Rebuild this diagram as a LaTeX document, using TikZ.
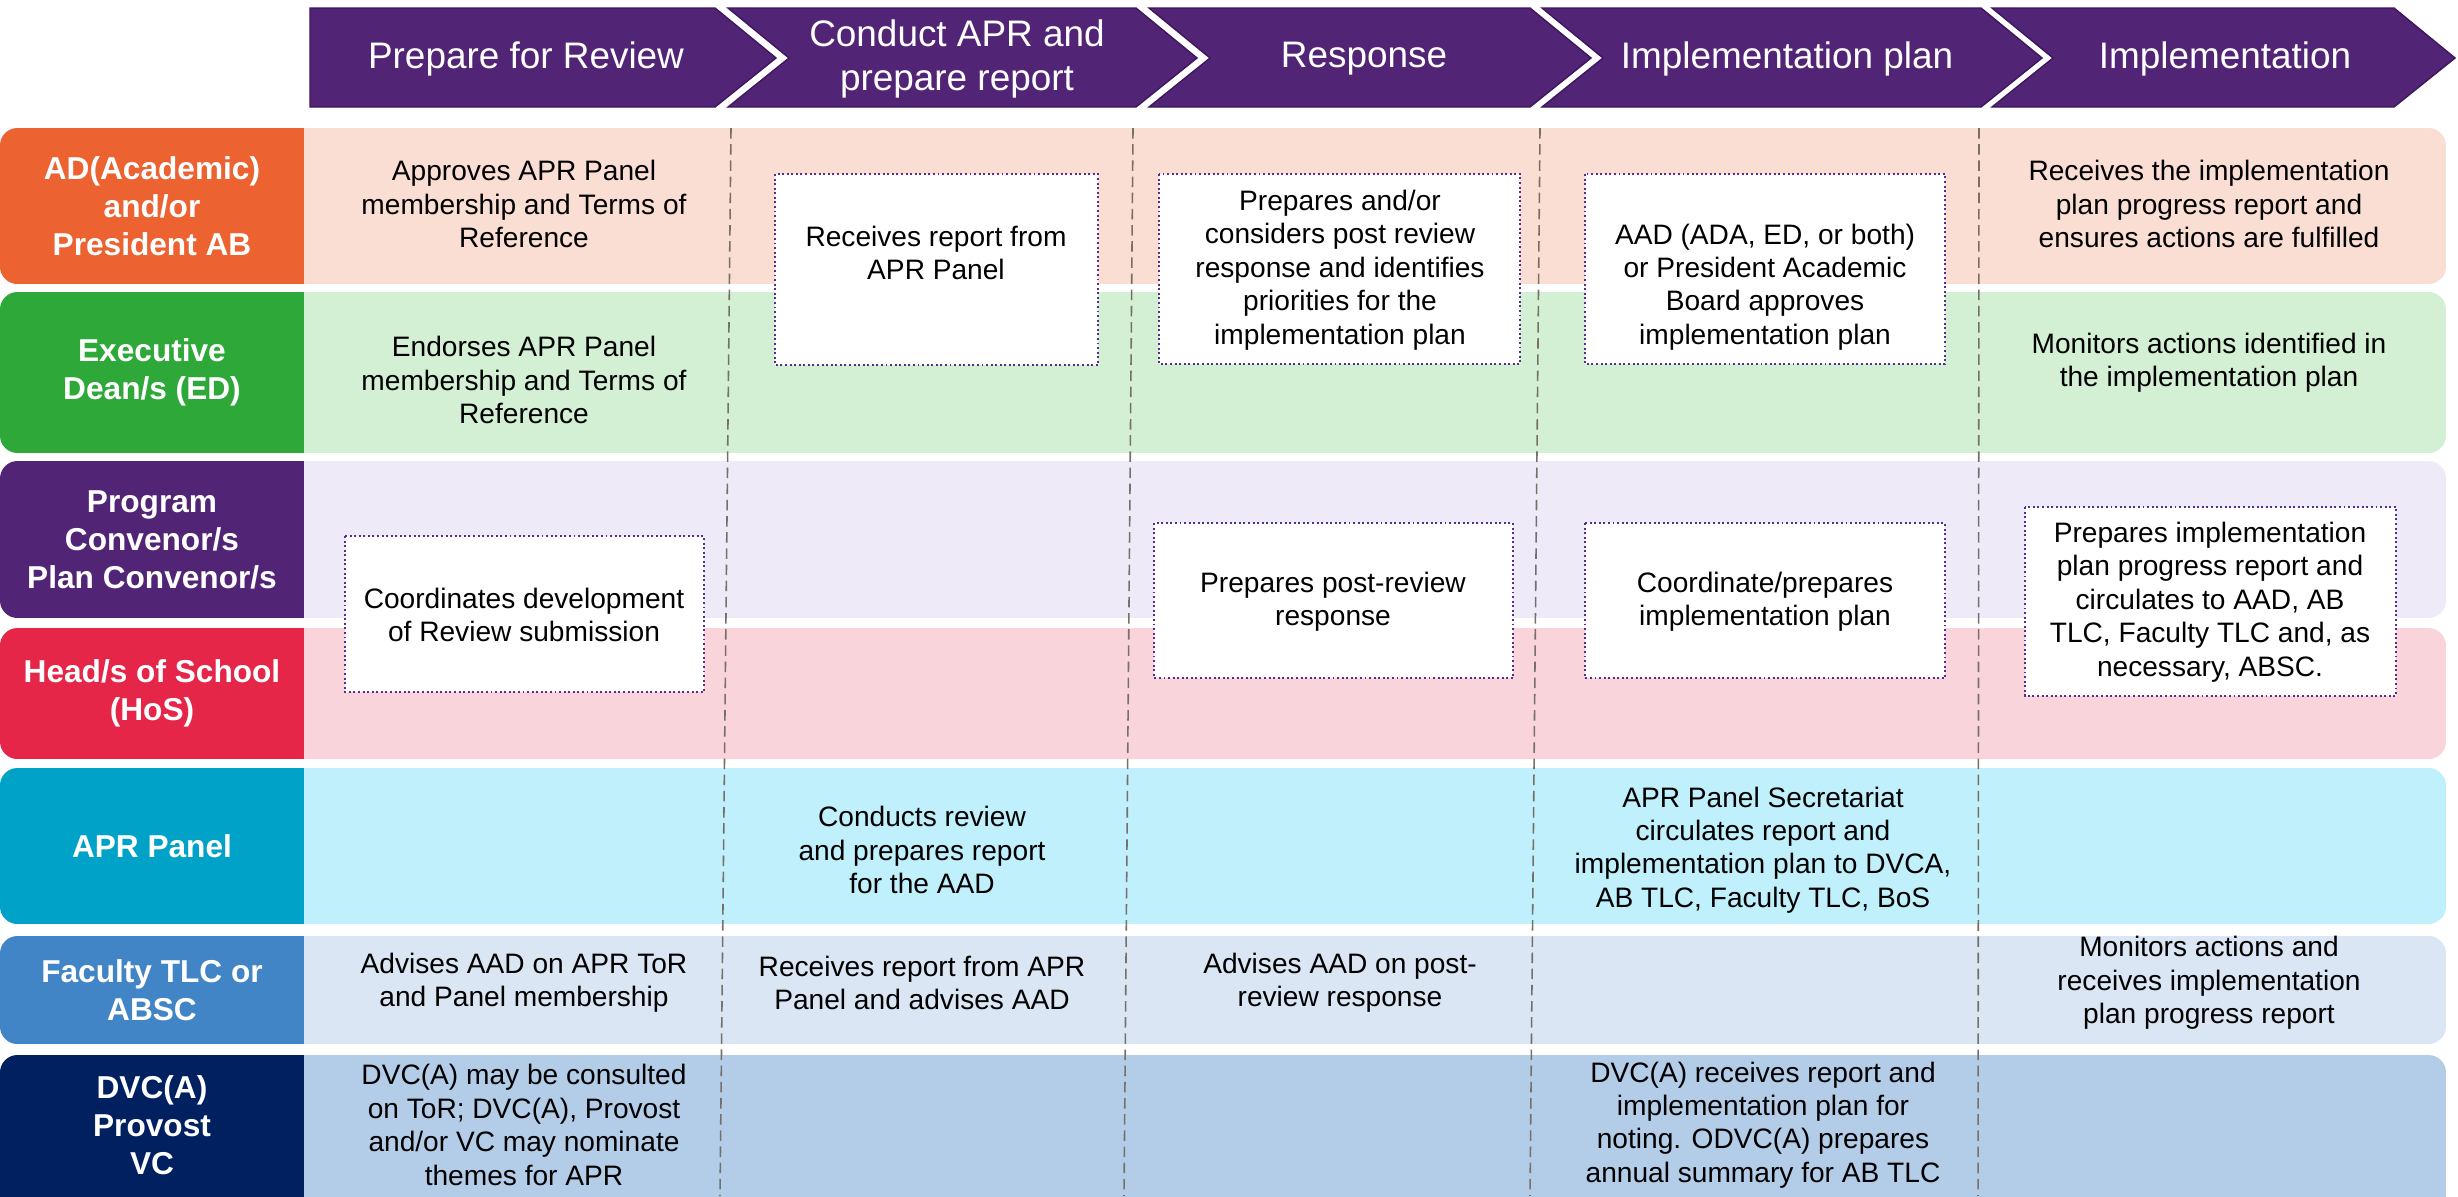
\documentclass[tikz,border=0pt]{standalone}
\usepackage{fontspec}
\setmainfont{Liberation Sans}
\usetikzlibrary{calc}
\definecolor{apr-purp}{RGB}{82, 36, 118}
\definecolor{apr-purp-line}{RGB}{62, 22, 94}
\definecolor{box-dots}{RGB}{88, 44, 140}
\definecolor{div-grey}{RGB}{118, 112, 104}
\definecolor{ad-dark}{RGB}{236, 98, 48}
\definecolor{ad-light}{RGB}{250, 222, 212}
\definecolor{ed-dark}{RGB}{46, 168, 56}
\definecolor{ed-light}{RGB}{211, 240, 213}
\definecolor{pc-dark}{RGB}{82, 36, 118}
\definecolor{pc-light}{RGB}{239, 234, 248}
\definecolor{hos-dark}{RGB}{229, 38, 72}
\definecolor{hos-light}{RGB}{250, 212, 219}
\definecolor{panel-dark}{RGB}{0, 162, 199}
\definecolor{panel-light}{RGB}{192, 240, 252}
\definecolor{tlc-dark}{RGB}{66, 133, 198}
\definecolor{tlc-light}{RGB}{218, 230, 243}
\definecolor{dvc-dark}{RGB}{0, 32, 96}
\definecolor{dvc-light}{RGB}{179, 205, 232}
\newcommand{\phase}[6]{
	\fill[apr-purp, draw=apr-purp-line, line width=0.4pt] (#2,8) -- (#3,8) -- ({#3+61},58) -- (#3,107) -- (#2,107) -- ({#2+#4},58) -- cycle;
	\node[phasetext] (#1) at (#5,59) {#6};
}
\newcommand{\lane}[6]{
	\begin{scope}
		\clip[rounded corners=5pt] (0,#2) rectangle (2446,#3);
		\fill[#5] (0,#2) rectangle (2446,#3);
		\fill[#4] (0,#2) rectangle (304,#3);
	\end{scope}
	\node[lanetext] (#1) at (152,{min((#2+#3)/2,1125)}) {#6};
}

\begin{document}
\begin{tikzpicture}[x=0.1mm, y=-0.1mm,
	phasetext/.style={text=white, align=center, font=\fontsize{10.5}{12.5}\selectfont},
	lanetext/.style={text=white, align=center, font=\bfseries\fontsize{9}{10.8}\selectfont},
	cell/.style={text=black, align=center, font=\fontsize{8}{9.5}\selectfont},
	actbox/.style={fill=white, draw=box-dots, line width=0.55pt, dash pattern=on 0.55pt off 0.75pt},
	divider/.style={draw=div-grey, line width=0.45pt, dash pattern=on 3pt off 1.6pt}]
\useasboundingbox (0,0) rectangle (2458,1196);

\phase{prep}{310}{715}{0}{526}{Prepare for Review}
\phase{conduct}{728}{1136}{61}{957}{Conduct APR and\\prepare report}
\phase{resp}{1149}{1530}{61}{1364}{Response}
\phase{implplan}{1542}{1981}{61}{1787}{Implementation plan}
\phase{impl}{1992}{2394}{61}{2225}{Implementation}

\lane{ad}{128}{284}{ad-dark}{ad-light}{AD(Academic)\\and/or\\President AB}
\lane{ed}{292}{453}{ed-dark}{ed-light}{Executive\\Dean/s (ED)}
\lane{pc}{461}{618}{pc-dark}{pc-light}{Program\\Convenor/s\\Plan Convenor/s}
\lane{hos}{628}{759}{hos-dark}{hos-light}{Head/s of School\\(HoS)}
\lane{panel}{768}{924}{panel-dark}{panel-light}{APR Panel}
\lane{tlc}{936}{1044}{tlc-dark}{tlc-light}{Faculty TLC or\\ABSC}
\lane{dvc}{1055}{1230}{dvc-dark}{dvc-light}{DVC(A)\\Provost\\VC}

\foreach \xa/\xb in {731/720, 1133/1124, 1540/1530, 1979/1978}
	\draw[divider] (\xa,128) -- (\xb,1196);

\draw[actbox] (775,174) rectangle (1098,365);
\draw[actbox] (1159,174) rectangle (1520,364);
\draw[actbox] (1585,174) rectangle (1945,364);
\draw[actbox] (345,536) rectangle (704,692);
\draw[actbox] (1154,523) rectangle (1513,678);
\draw[actbox] (1585,523) rectangle (1945,678);
\draw[actbox] (2025,507) rectangle (2396,696);

\node[cell] (adapprove) at (524,204) {Approves APR Panel\\membership and Terms of\\Reference};
\node[cell] (adreceive) at (936,253) {Receives report from\\APR Panel};
\node[cell] (adrespond) at (1340,270) {Prepares and/or\\considers post review\\response and identifies\\priorities for the\\implementation plan};
\node[cell] (adplan) at (1765,287) {AAD (ADA, ED, or both)\\or President Academic\\Board approves\\implementation plan};
\node[cell] (adprogress) at (2209,204) {Receives the implementation\\plan progress report and\\ensures actions are fulfilled};

\node[cell] (edendorse) at (524,380) {Endorses APR Panel\\membership and Terms of\\Reference};
\node[cell] (edmonitor) at (2209,363) {Monitors actions identified in\\the implementation plan};

\node[cell] (pcsubmit) at (524,615) {Coordinates development\\of Review submission};
\node[cell] (pcrespond) at (1333,602) {Prepares post-review\\response};
\node[cell] (pcplan) at (1765,602) {Coordinate/prepares\\implementation plan};
\node[cell] (pcprogress) at (2210,602) {Prepares implementation\\plan progress report and\\circulates to AAD, AB\\TLC, Faculty TLC and, as\\necessary, ABSC.};

\node[cell] (panelreview) at (922,850) {Conducts review\\and prepares report\\for the AAD};
\node[cell] (panelcirc) at (1763,850) {APR Panel Secretariat\\circulates report and\\implementation plan to DVCA,\\AB TLC, Faculty TLC, BoS};

\node[cell] (tlctor) at (524,983) {Advises AAD on APR ToR\\and Panel membership};
\node[cell] (tlcreport) at (922,983) {Receives report from APR\\Panel and advises AAD};
\node[cell] (tlcresp) at (1340,983) {Advises AAD on post-\\review response};
\node[cell] (tlcmonitor) at (2209,983) {Monitors actions and\\receives implementation\\plan progress report};

\node[cell] (dvctor) at (524,1125) {DVC(A) may be consulted\\on ToR; DVC(A), Provost\\and/or VC may nominate\\themes for APR};
\node[cell] (dvcnote) at (1763,1125) {DVC(A) receives report and\\implementation plan for\\noting. ODVC(A) prepares\\annual summary for AB TLC};
\end{tikzpicture}
\end{document}
